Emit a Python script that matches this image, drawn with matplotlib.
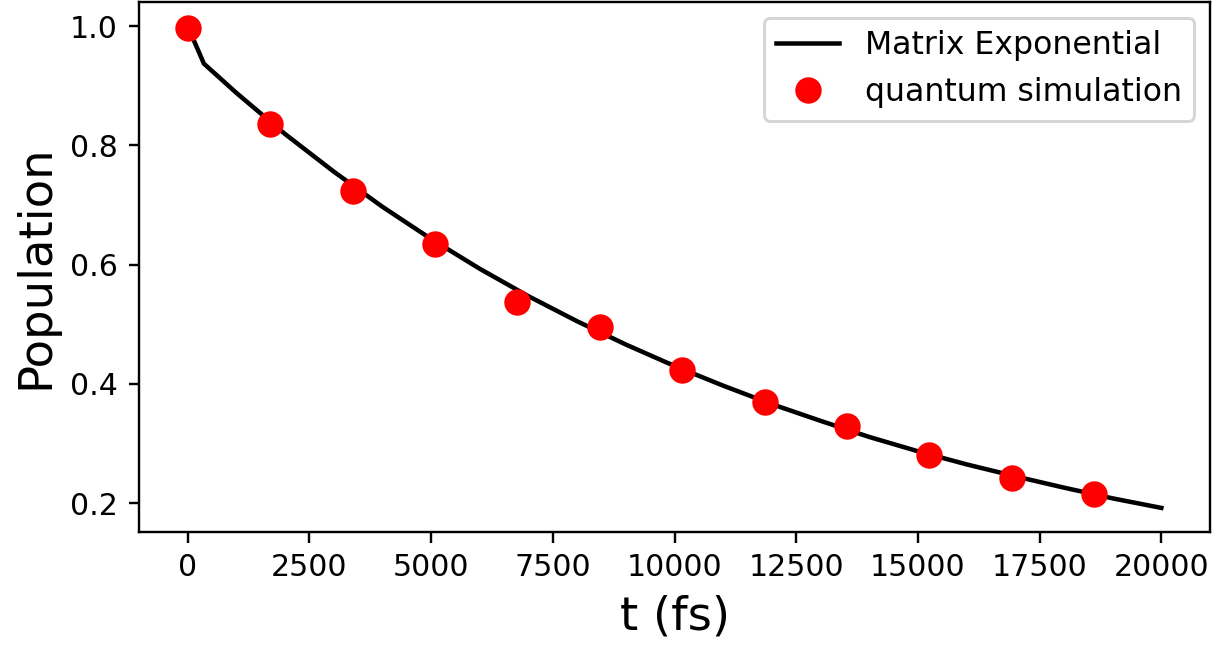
import matplotlib
matplotlib.use("Agg")
import matplotlib.pyplot as plt

# Matrix exponential curve
t_line = [0, 333, 1000, 2000, 3000, 4000, 5000, 6000, 7000, 8000, 9000, 10000,
          11000, 12000, 13000, 14000, 15000, 16000, 17000, 18000, 19000, 20000]
p_line = [1.000, 0.937, 0.888, 0.819, 0.756, 0.697, 0.643, 0.593, 0.547, 0.505,
          0.466, 0.430, 0.397, 0.366, 0.338, 0.311, 0.287, 0.265, 0.245, 0.226,
          0.208, 0.192]

# Quantum simulation points
t_sim = [0, 1693, 3386, 5079, 6772, 8465, 10158, 11851, 13544, 15237, 16930, 18623]
p_sim = [0.997, 0.835, 0.723, 0.635, 0.538, 0.496, 0.423, 0.369, 0.330, 0.281,
         0.242, 0.216]

DPI = 216
fig = plt.figure(figsize=(1223 / DPI, 646 / DPI), dpi=DPI)
ax = fig.add_axes([139 / 1223, 1 - 532 / 646, (1210 - 139) / 1223, (532 - 2) / 646])

ax.plot(t_line, p_line, color="black", lw=1.5, label="Matrix Exponential")
ax.plot(t_sim, p_sim, "o", color="red", ms=7.8, label="quantum simulation")

ax.set_xticks([0, 2500, 5000, 7500, 10000, 12500, 15000, 17500, 20000])
ax.set_yticks([0.2, 0.4, 0.6, 0.8, 1.0])
ax.tick_params(labelsize=10)
ax.set_xlabel("t (fs)", fontsize=15.5)
ax.set_ylabel("Population", fontsize=15.5)
ax.legend(loc="upper right", fontsize=10.5)

fig.savefig("out.png", dpi=DPI)
